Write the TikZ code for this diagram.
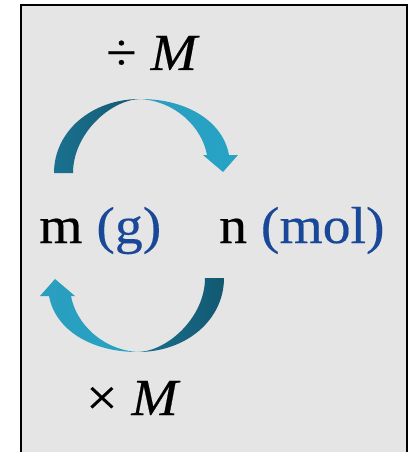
\documentclass[tikz,border=0pt]{standalone}
\usepackage{fontspec}
\setmainfont{Liberation Serif}[FakeStretch=1.07, RawFeature={embolden=0.35}]
\definecolor{panelgray}{HTML}{E5E5E5}
\definecolor{darkA}{HTML}{1B7190}
\definecolor{darkB}{HTML}{125870}
\definecolor{lightA}{HTML}{2A9EBE}
\definecolor{lightB}{HTML}{27A3C6}
\definecolor{unitblue}{HTML}{1A4899}
\newcommand\convarrow{%
  \shade[left color=darkA, right color=darkB]
    (54,173) .. controls (54,131) and (92,99) .. (140,99)
    .. controls (110,100) and (73,134) .. (73,173) -- cycle;
  \shade[left color=lightA, right color=lightB]
    (140,99) .. controls (188,99) and (223,122) .. (229,155)
    -- (238,155) -- (223,172) -- (203,155) -- (207,155)
    .. controls (202,127) and (175,101) .. (140,99) -- cycle;
}
\begin{document}
\begin{tikzpicture}[x=1pt,y=-1pt,
  lbl/.style={inner sep=0pt, anchor=base west, font=\fontsize{52}{60}\selectfont}]
\useasboundingbox (0,0) rectangle (409,452);
\fill[white] (0,0) rectangle (409,452);
\draw[line width=2pt, fill=panelgray] (21,5) rectangle (407,470);
\convarrow
\begin{scope}[rotate around={180:(139,225.5)}]
\convarrow
\end{scope}
\node[lbl] (div) at (106,70) {÷ \textit{M}};
\node[lbl] (mass) at (39,243) {m \textcolor{unitblue}{(g)}};
\node[lbl] (mol) at (219,243) {n \textcolor{unitblue}{(mol)}};
\node[lbl] (mul) at (86,415) {× \textit{M}};
\end{tikzpicture}
\end{document}
